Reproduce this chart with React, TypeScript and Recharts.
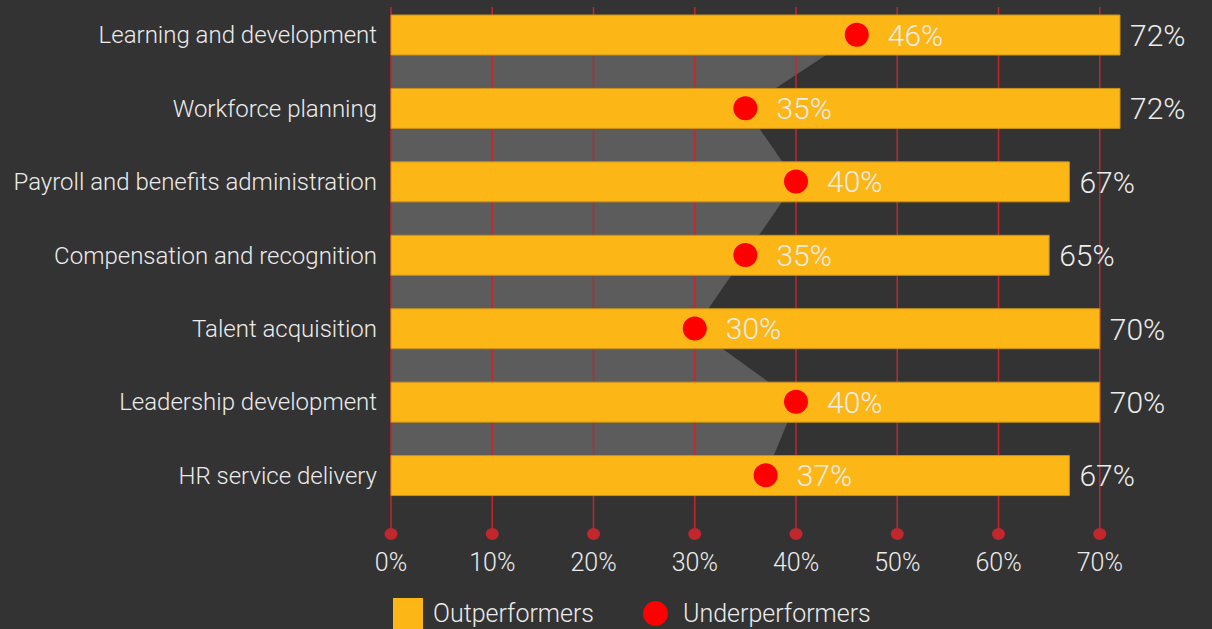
import { ComposedChart, Bar, Area, Line, XAxis, YAxis, ReferenceLine, LabelList } from 'recharts';

const categories = [
    'Learning and development',
    'Workforce planning',
    'Payroll and benefits administration',
    'Compensation and recognition',
    'Talent acquisition',
    'Leadership development',
    'HR service delivery',
];
const outperformers = [72, 72, 67, 65, 70, 70, 67];
const underperformers = [46, 35, 40, 35, 30, 40, 37];
const xTicks = [0, 10, 20, 30, 40, 50, 60, 70];

const data = categories.map((name, i) => ({
    name,
    out: outperformers[i],
    under: underperformers[i],
}));

const FONT = "Roboto, 'Liberation Sans', sans-serif";
const BG = '#333333';
const YELLOW = '#fcb716';
const RED = '#ff0000';
const GRID_RED = '#c1272d';
const TEXT = '#ececec';

// gridline running from the top of the chart down past the last bar, ending in a dot
const GridStem = (props: any) => {
    const { x1, y1, y2 } = props;
    const top = Math.min(y1, y2) + 9;
    const bottom = Math.max(y1, y2) + 22;
    return (
        <g>
            <line x1={x1} x2={x1} y1={top} y2={bottom} stroke={GRID_RED} strokeWidth={1.5} />
            <ellipse cx={x1} cy={bottom} rx={6.5} ry={6} fill={GRID_RED} />
        </g>
    );
};

const UnderLabel = (props: any) => {
    const { x, y, value } = props;
    return (
        <text x={x + 31} y={y} dy="0.36em" fill={TEXT} fontSize={30} fontFamily={FONT} fontWeight={300}>
            {`${value}%`}
        </text>
    );
};

const OutLabel = (props: any) => {
    const { x, y, width, height, value } = props;
    return (
        <text x={x + width + 10} y={y + height / 2} dy="0.36em" fill={TEXT} fontSize={30} fontFamily={FONT} fontWeight={300}>
            {`${value}%`}
        </text>
    );
};

export default function App() {
    return (
        <div style={{ position: 'absolute', left: 0, top: 0, width: 1212, height: 629, background: BG, overflow: 'hidden', fontFamily: FONT }}>
            <ComposedChart
                width={1212}
                height={629}
                data={data}
                layout="vertical"
                margin={{ top: -2, right: 11, bottom: 57, left: 0 }}
            >
                <XAxis
                    type="number"
                    domain={[0, 80]}
                    ticks={xTicks}
                    tickFormatter={(v) => `${v}%`}
                    axisLine={false}
                    tickLine={false}
                    tickSize={0}
                    tickMargin={41}
                    height={60}
                    tick={{ fill: TEXT, fontSize: 25, fontFamily: FONT, fontWeight: 300 }}
                />
                <YAxis
                    type="category"
                    dataKey="name"
                    width={391}
                    axisLine={false}
                    tickLine={false}
                    tickSize={0}
                    tickMargin={14}
                    tick={{ fill: TEXT, fontSize: 24, fontFamily: FONT, fontWeight: 300 }}
                />
                <Area
                    dataKey="under"
                    type="linear"
                    stroke="none"
                    fill="#5c5c5c"
                    fillOpacity={1}
                    isAnimationActive={false}
                    legendType="none"
                    zIndex={100}
                />
                {xTicks.map((t) => (
                    <ReferenceLine key={t} x={t} shape={GridStem} zIndex={150} />
                ))}
                <Bar
                    dataKey="out"
                    name="Outperformers"
                    fill={YELLOW}
                    stroke="#c9921a"
                    strokeWidth={1}
                    barSize={40}
                    isAnimationActive={false}
                    zIndex={300}
                >
                    <LabelList dataKey="out" content={OutLabel} />
                </Bar>
                <Line
                    dataKey="under"
                    name="Underperformers"
                    stroke="none"
                    dot={{ r: 12, fill: RED, stroke: 'none' }}
                    activeDot={false}
                    isAnimationActive={false}
                    zIndex={400}
                >
                    <LabelList dataKey="under" content={UnderLabel} />
                </Line>
            </ComposedChart>
            <div style={{ position: 'absolute', left: 393, top: 598, display: 'flex', alignItems: 'center', color: TEXT, fontSize: 25, fontWeight: 300 }}>
                <span style={{ width: 30, height: 31, background: YELLOW, display: 'inline-block', marginRight: 10 }} />
                <span style={{ marginRight: 49 }}>Outperformers</span>
                <span style={{ width: 25, height: 25, borderRadius: '50%', background: RED, display: 'inline-block', marginRight: 15 }} />
                <span>Underperformers</span>
            </div>
        </div>
    );
}
